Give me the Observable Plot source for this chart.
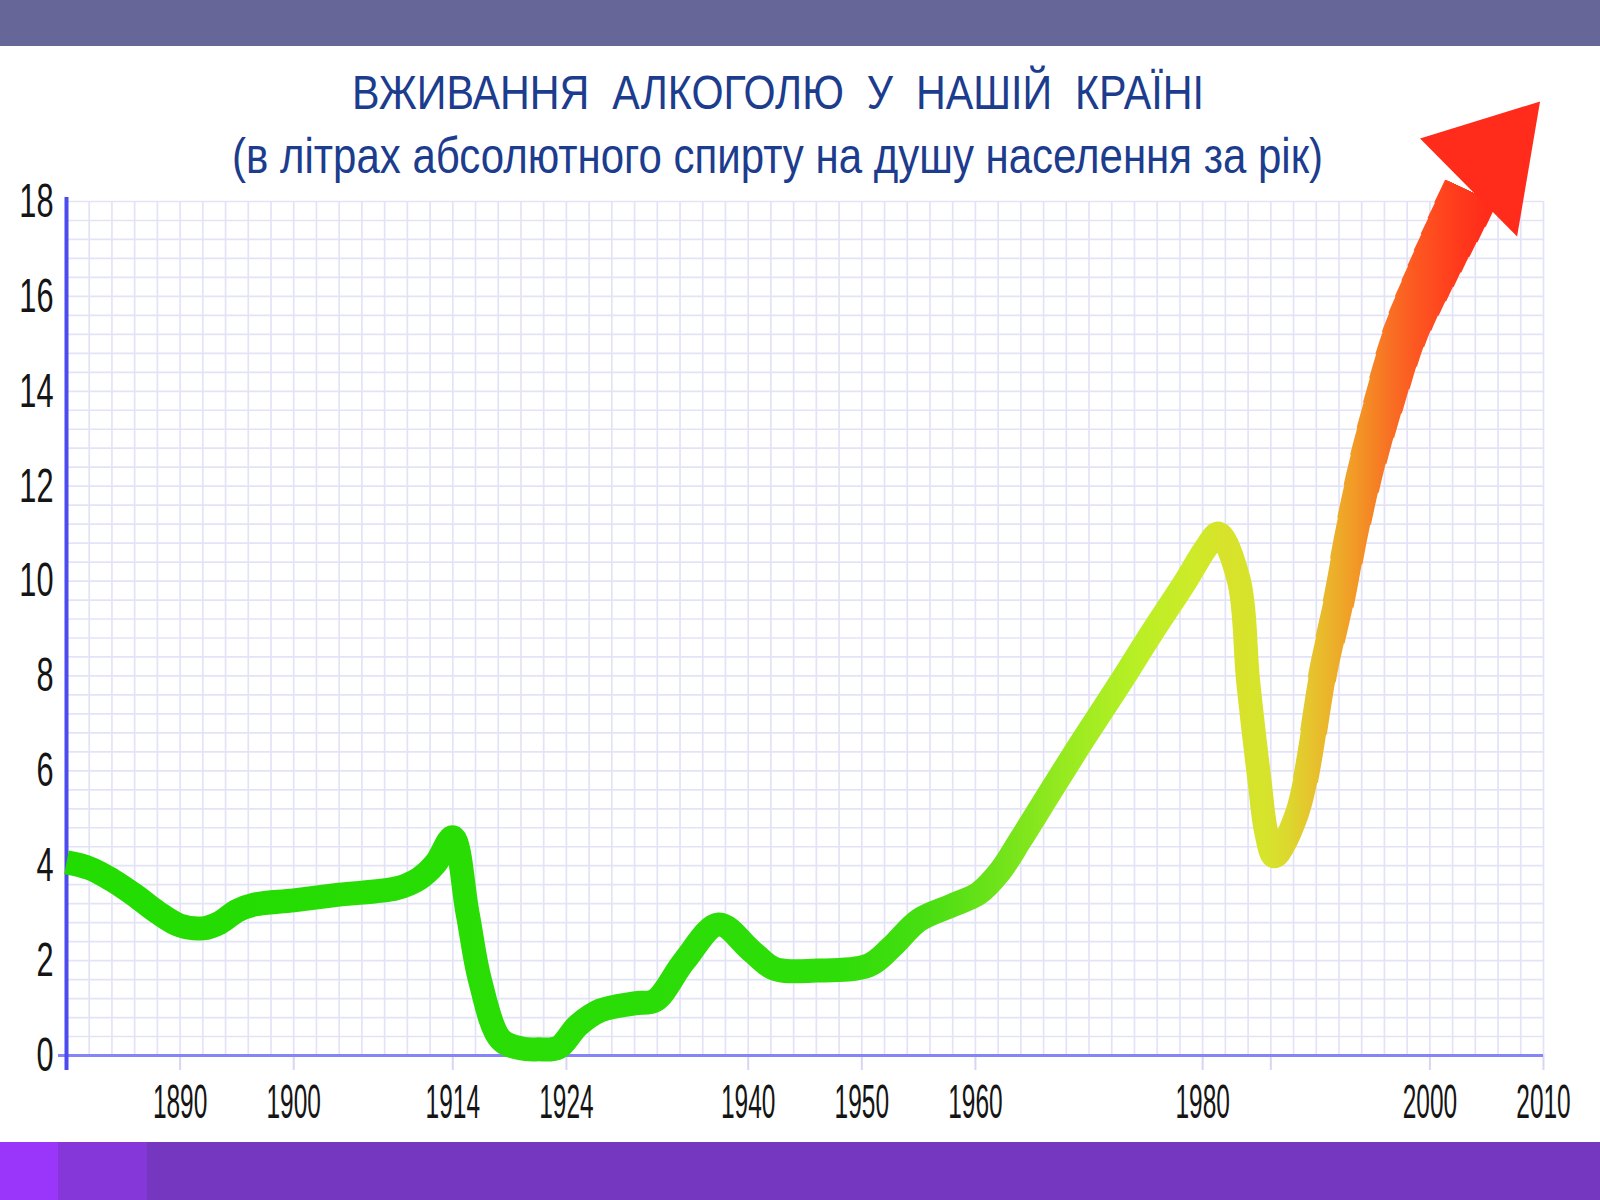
<!DOCTYPE html>
<html>
<head>
<meta charset="utf-8">
<script src="https://cdn.jsdelivr.net/npm/d3@7"></script>
<script src="https://cdn.jsdelivr.net/npm/@observablehq/plot@0.6"></script>
<style>
  html, body { margin: 0; padding: 0; background: #fff; }
  #page { position: relative; width: 1600px; height: 1200px; overflow: hidden; background: #fff;
          font-family: "Liberation Sans", Arial, sans-serif; }
  .band-top { position: absolute; left: 0; top: 0; width: 1600px; height: 46px; background: #666699; }
  .band-bottom { position: absolute; top: 1142px; height: 58px; }
  .ttl { position: absolute; left: 0; width: 1556px; text-align: center; color: #1c3c8e;
         white-space: nowrap; line-height: 1; }
  .ttl span { display: inline-block; transform-origin: 50% 50%; white-space: pre; }
  #chart { position: absolute; left: 0; top: 190px; }
  #chart svg { overflow: visible; }
</style>
</head>
<body>
<div id="page">
  <div class="band-top"></div>
  <div class="ttl" id="title" style="top:68px;font-size:49px;"><span>ВЖИВАННЯ  АЛКОГОЛЮ  У  НАШІЙ  КРАЇНІ</span></div>
  <div class="ttl" id="subtitle" style="top:131px;font-size:50px;"><span>(в літрах абсолютного спирту на душу населення за рік)</span></div>
  <div id="chart"></div>
  <div class="band-bottom" style="left:0;width:58px;background:#9a35fa;"></div>
  <div class="band-bottom" style="left:58px;width:89px;background:#8637da;"></div>
  <div class="band-bottom" style="left:147px;width:1453px;background:#7537c0;"></div>
</div>
<script>
// ---------------- data ----------------
const years = [1880, 1882, 1884, 1886, 1888, 1890, 1892, 1893.5, 1895, 1896.5,
  1900, 1904, 1909, 1911, 1912.5, 1914, 1915.3, 1916.4, 1918.2, 1920,
  1921.5, 1923.3, 1925, 1927, 1930, 1931.8, 1934.4, 1937.4, 1940.3, 1942.3,
  1946, 1950.6, 1952.6, 1955, 1957.9, 1960.3, 1962.1, 1964, 1966.7, 1969.6,
  1972.6, 1975.5, 1978.4, 1980.3, 1981.4, 1983.2, 1984.0, 1985.0, 1985.6, 1986.3,
  1988.3, 1990.7, 1992.0, 1993.1, 1994.4, 1996.0, 1997.8, 2000.4, 2002.6, 2003.6];
const litres = [4.07, 3.95, 3.70, 3.38, 3.02, 2.74, 2.68, 2.80, 3.05, 3.18,
  3.27, 3.39, 3.52, 3.72, 4.05, 4.60, 3.00, 1.58, 0.34, 0.15,
  0.13, 0.17, 0.63, 0.95, 1.10, 1.16, 2.00, 2.76, 2.20, 1.83,
  1.79, 1.90, 2.28, 2.85, 3.16, 3.42, 3.86, 4.56, 5.60, 6.70,
  7.80, 8.90, 9.96, 10.70, 11.00, 10.00, 7.90, 5.80, 4.70, 4.20,
  5.10, 8.20, 9.60, 11.00, 12.40, 13.80, 15.20, 16.60, 17.70, 18.20];

const yTicks = [0, 2, 4, 6, 8, 10, 12, 14, 16, 18];
const xTickYears = [1890, 1900, 1914, 1924, 1940, 1950, 1960, 1980, 1986, 2000, 2010];
const xTickLabels = ["1890", "1900", "1914", "1924", "1940", "1950", "1960", "1980", "", "2000", "2010"];

// arrow head (continuation of the trend beyond the frame)
const headYear = [2005.5];
const headLitres = [18.9];

// ---------------- styles ----------------
const gridStepYears = 2, gridStepLitres = 0.4;
const gridYears = d3.range(0, (2010 - 1880) / gridStepYears + 1).map(i => 1880 + i * gridStepYears);
const gridLitres = d3.range(0, 18 / gridStepLitres + 1).map(i => +(i * gridStepLitres).toFixed(2));

const gradientStops = [
  [1880, "#22dc00"], [1948, "#2edd08"], [1956, "#4ade12"], [1962, "#70e31a"],
  [1968, "#98ea20"], [1974, "#b8ef25"], [1979, "#cdeb28"], [1982, "#d8e22a"],
  [1985.5, "#d6e42c"], [1987.5, "#dcd82e"], [1989.5, "#e6c42d"], [1991.5, "#ecb02a"],
  [1993.5, "#f29826"], [1995, "#f58424"], [1996.5, "#f87024"], [1998.5, "#fc5a21"],
  [2000.5, "#ff4a1f"], [2002.5, "#ff3a1c"], [2005, "#ff2c1a"], [2010, "#ff2818"]
];
// shaft thickness (px) growing towards the arrow head: [year, width]
const taperStops = [[1988.3, 24], [1990.7, 29], [1993.1, 34], [1996.0, 41], [1998.0, 46], [2000.4, 52], [2002.6, 57]];
const yearAtWidth = d3.scaleLinear(taperStops.map(d => d[1]), taperStops.map(d => d[0]));
const taperWidths = d3.range(25.5, 57.01, 1.5);

const data = years.map((year, i) => ({year, litres: litres[i]}));
const head = headYear.map((year, i) => ({year, litres: headLitres[i]}));
const gradUrl = "url(#alcoGrad)";

// arrow-head glyph, pointing up-right
const headAngle = 43 * Math.PI / 180;
const headShape = [[-4.2, 74.4], [71.1, -40], [-66.7, -34.5]]; // [side, along] relative to centroid, for r = 50
const arrowSymbol = {
  draw(context, size) {
    const k = Math.sqrt(size / Math.PI) / 50;
    const u = [Math.sin(headAngle), -Math.cos(headAngle)];
    const v = [Math.cos(headAngle), Math.sin(headAngle)];
    const pts = headShape.map(([s, a]) => [k * (s * v[0] + a * u[0]), k * (s * v[1] + a * u[1])]);
    context.moveTo(pts[0][0], pts[0][1]);
    context.lineTo(pts[1][0], pts[1][1]);
    context.lineTo(pts[2][0], pts[2][1]);
    context.closePath();
  }
};

const lineOpts = {x: "year", y: "litres", stroke: gradUrl, curve: "catmull-rom", strokeLinejoin: "round", strokeLinecap: "butt"};

const chart = Plot.plot({
  width: 1600,
  height: 952,
  marginLeft: 66,
  marginRight: 57,
  marginTop: 11,
  marginBottom: 87,
  style: {background: "transparent", overflow: "visible",
          fontFamily: "'Liberation Sans', Arial, sans-serif", fontSize: "48px", color: "#151515"},
  x: {domain: [1880, 2010], ticks: xTickYears,
      tickFormat: d => xTickLabels[xTickYears.indexOf(d)], tickSize: 15, tickPadding: 13, label: null},
  y: {domain: [0, 18], ticks: yTicks, tickSize: 0, tickPadding: 13, label: null},
  marks: [
    Plot.ruleX(gridYears, {stroke: "#e3e3f8", strokeWidth: 1.7}),
    Plot.ruleY(gridLitres, {stroke: "#e3e3f8", strokeWidth: 1.7}),
    Plot.ruleY([0], {stroke: "#8585f6", strokeWidth: 3, insetLeft: -8}),
    Plot.ruleX([1880], {stroke: "#4b4bf0", strokeWidth: 4, insetTop: -4, insetBottom: -15}),
    Plot.line(data, {...lineOpts, strokeWidth: 24}),
    ...taperWidths.map(w => Plot.line(data, {...lineOpts, strokeWidth: w})),
    Plot.dot(head, {x: "year", y: "litres", r: 50, symbol: arrowSymbol, fill: "#ff2b1b", stroke: "none"})
  ]
});

document.getElementById("chart").appendChild(chart);

// gradient along the time axis, placed with the plot's own x scale
const xs = chart.scale("x");
const x1 = xs.apply(1880), x2 = xs.apply(2010);
const NS = "http://www.w3.org/2000/svg";
const defs = document.createElementNS(NS, "defs");
const grad = document.createElementNS(NS, "linearGradient");
grad.setAttribute("id", "alcoGrad");
grad.setAttribute("gradientUnits", "userSpaceOnUse");
grad.setAttribute("x1", x1); grad.setAttribute("x2", x2);
grad.setAttribute("y1", 0); grad.setAttribute("y2", 0);
for (const [yr, c] of gradientStops) {
  const s = document.createElementNS(NS, "stop");
  s.setAttribute("offset", ((yr - 1880) / 130).toFixed(4));
  s.setAttribute("stop-color", c);
  grad.appendChild(s);
}
defs.appendChild(grad);
chart.insertBefore(defs, chart.firstChild);

// thickening shaft: each wider copy of the same curve only shows from its start year on
const lineGroups = [...chart.querySelectorAll('g[aria-label="line"]')];
lineGroups.slice(1).forEach((g, i) => {
  const path = g.querySelector("path");
  if (!path) return;
  const xStart = xs.apply(yearAtWidth(taperWidths[i]));
  const total = path.getTotalLength();
  let lo = 0, hi = total;
  for (let k = 0; k < 40; k++) {
    const mid = (lo + hi) / 2;
    if (path.getPointAtLength(mid).x < xStart) lo = mid; else hi = mid;
  }
  path.setAttribute("stroke-dasharray", `0 ${hi} ${total + 10}`);
});

// condensed tick labels
function squeeze(selector, s, size) {
  chart.querySelectorAll(selector).forEach(t => {
    const x = t.getAttribute("x");
    let tr = t.getAttribute("transform") || "";
    if (x && +x !== 0) { tr += ` translate(${x},0)`; t.setAttribute("x", 0); }
    t.setAttribute("transform", (tr + ` scale(${s},1)`).trim());
    t.style.fontSize = size + "px";
  });
}
squeeze('[aria-label^="x-axis"] text', 0.51, 48);
squeeze('[aria-label^="y-axis"] text', 0.64, 48);
chart.querySelectorAll('[aria-label^="x-axis"] path, [aria-label^="x-axis"] line').forEach(p => {
  p.setAttribute("stroke", "#d6d6f2");
  p.setAttribute("stroke-width", 2);
});

// fit title widths (condensed face)
function fit(id, target) {
  const span = document.querySelector(`#${id} span`);
  const w = span.getBoundingClientRect().width;
  span.style.transform = `scaleX(${target / w})`;
}
fit("title", 852);
fit("subtitle", 1091);
</script>
</body>
</html>
